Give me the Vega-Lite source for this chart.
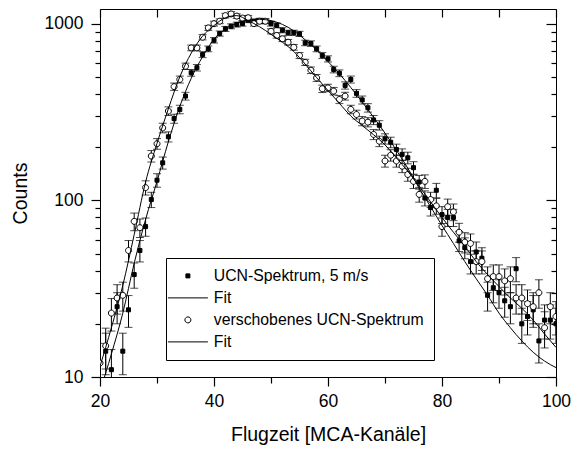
{
  "$schema": "https://vega.github.io/schema/vega-lite/v6.json",
  "width": 456,
  "height": 368,
  "autosize": "none",
  "padding": {"left": 100, "top": 9, "right": 18, "bottom": 72},
  "background": "white",
  "config": {
    "view": {"stroke": "black", "strokeWidth": 1},
    "font": "Liberation Sans",
    "axis": {"grid": false, "domain": false, "ticks": true, "tickColor": "black", "tickWidth": 1.2, "tickOpacity": 1, "labelColor": "black", "titleColor": "black", "titleFontWeight": "normal", "labelFontSize": 17.5, "titleFontSize": 19.5, "labelFlush": false, "labelOverlap": false},
    "legend": {"orient": "none", "legendX": 66, "legendY": 249, "strokeColor": "black", "fillColor": "white", "padding": 10, "symbolOffset": 4, "rowPadding": 5, "labelOffset": 18, "labelFont": "Liberation Sans", "labelFontSize": 15.8, "labelColor": "black", "labelLimit": 400, "symbolSize": 64, "symbolStrokeWidth": 1, "symbolOpacity": 1}
  },
  "datasets": {
    "pts": [
      {"x":21,"n":14,"err":3.7,"serie":"UCN-Spektrum, 5 m/s"},{"x":22,"n":11,"err":3.3,"serie":"UCN-Spektrum, 5 m/s"},{"x":23,"n":25,"err":5,"serie":"UCN-Spektrum, 5 m/s"},{"x":24,"n":14,"err":3.7,"serie":"UCN-Spektrum, 5 m/s"},{"x":25,"n":24,"err":4.9,"serie":"UCN-Spektrum, 5 m/s"},{"x":26,"n":38,"err":6.2,"serie":"UCN-Spektrum, 5 m/s"},{"x":27,"n":52,"err":7.2,"serie":"UCN-Spektrum, 5 m/s"},{"x":28,"n":71,"err":8.4,"serie":"UCN-Spektrum, 5 m/s"},{"x":29,"n":101,"err":10,"serie":"UCN-Spektrum, 5 m/s"},{"x":30,"n":130,"err":11.4,"serie":"UCN-Spektrum, 5 m/s"},
      {"x":31,"n":163,"err":12.8,"serie":"UCN-Spektrum, 5 m/s"},{"x":32,"n":229,"err":15.1,"serie":"UCN-Spektrum, 5 m/s"},{"x":33,"n":290,"err":17,"serie":"UCN-Spektrum, 5 m/s"},{"x":34,"n":327,"err":18.1,"serie":"UCN-Spektrum, 5 m/s"},{"x":35,"n":389,"err":19.7,"serie":"UCN-Spektrum, 5 m/s"},{"x":36,"n":527,"err":23,"serie":"UCN-Spektrum, 5 m/s"},{"x":37,"n":563,"err":23.7,"serie":"UCN-Spektrum, 5 m/s"},{"x":38,"n":668,"err":25.8,"serie":"UCN-Spektrum, 5 m/s"},{"x":39,"n":720,"err":26.8,"serie":"UCN-Spektrum, 5 m/s"},{"x":40,"n":805,"err":28.4,"serie":"UCN-Spektrum, 5 m/s"},
      {"x":41,"n":879,"err":29.6,"serie":"UCN-Spektrum, 5 m/s"},{"x":42,"n":934,"err":30.6,"serie":"UCN-Spektrum, 5 m/s"},{"x":43,"n":966,"err":31.1,"serie":"UCN-Spektrum, 5 m/s"},{"x":44,"n":988,"err":31.4,"serie":"UCN-Spektrum, 5 m/s"},{"x":45,"n":1000,"err":31.6,"serie":"UCN-Spektrum, 5 m/s"},{"x":46,"n":1045,"err":32.3,"serie":"UCN-Spektrum, 5 m/s"},{"x":47,"n":1030,"err":32.1,"serie":"UCN-Spektrum, 5 m/s"},{"x":48,"n":1040,"err":32.2,"serie":"UCN-Spektrum, 5 m/s"},{"x":49,"n":1032,"err":32.1,"serie":"UCN-Spektrum, 5 m/s"},{"x":50,"n":1000,"err":31.6,"serie":"UCN-Spektrum, 5 m/s"},
      {"x":51,"n":978,"err":31.3,"serie":"UCN-Spektrum, 5 m/s"},{"x":52,"n":918,"err":30.3,"serie":"UCN-Spektrum, 5 m/s"},{"x":53,"n":888,"err":29.8,"serie":"UCN-Spektrum, 5 m/s"},{"x":54,"n":888,"err":29.8,"serie":"UCN-Spektrum, 5 m/s"},{"x":55,"n":875,"err":29.6,"serie":"UCN-Spektrum, 5 m/s"},{"x":56,"n":778,"err":27.9,"serie":"UCN-Spektrum, 5 m/s"},{"x":57,"n":771,"err":27.8,"serie":"UCN-Spektrum, 5 m/s"},{"x":58,"n":720,"err":26.8,"serie":"UCN-Spektrum, 5 m/s"},{"x":59,"n":660,"err":25.7,"serie":"UCN-Spektrum, 5 m/s"},{"x":60,"n":632,"err":25.1,"serie":"UCN-Spektrum, 5 m/s"},
      {"x":61,"n":550,"err":23.5,"serie":"UCN-Spektrum, 5 m/s"},{"x":62,"n":524,"err":22.9,"serie":"UCN-Spektrum, 5 m/s"},{"x":63,"n":447,"err":21.1,"serie":"UCN-Spektrum, 5 m/s"},{"x":64,"n":483,"err":22,"serie":"UCN-Spektrum, 5 m/s"},{"x":65,"n":403,"err":20.1,"serie":"UCN-Spektrum, 5 m/s"},{"x":66,"n":370,"err":19.2,"serie":"UCN-Spektrum, 5 m/s"},{"x":67,"n":334,"err":18.3,"serie":"UCN-Spektrum, 5 m/s"},{"x":68,"n":285,"err":16.9,"serie":"UCN-Spektrum, 5 m/s"},{"x":69,"n":266,"err":16.3,"serie":"UCN-Spektrum, 5 m/s"},{"x":70,"n":223,"err":14.9,"serie":"UCN-Spektrum, 5 m/s"},
      {"x":71,"n":213,"err":14.6,"serie":"UCN-Spektrum, 5 m/s"},{"x":72,"n":194,"err":13.9,"serie":"UCN-Spektrum, 5 m/s"},{"x":73,"n":182,"err":13.5,"serie":"UCN-Spektrum, 5 m/s"},{"x":74,"n":174,"err":13.2,"serie":"UCN-Spektrum, 5 m/s"},{"x":75,"n":153,"err":12.4,"serie":"UCN-Spektrum, 5 m/s"},{"x":76,"n":127,"err":11.3,"serie":"UCN-Spektrum, 5 m/s"},{"x":77,"n":103,"err":10.1,"serie":"UCN-Spektrum, 5 m/s"},{"x":78,"n":91,"err":9.5,"serie":"UCN-Spektrum, 5 m/s"},{"x":79,"n":114,"err":10.7,"serie":"UCN-Spektrum, 5 m/s"},{"x":80,"n":83,"err":9.1,"serie":"UCN-Spektrum, 5 m/s"},
      {"x":81,"n":80,"err":8.9,"serie":"UCN-Spektrum, 5 m/s"},{"x":82,"n":80,"err":8.9,"serie":"UCN-Spektrum, 5 m/s"},{"x":83,"n":59,"err":7.7,"serie":"UCN-Spektrum, 5 m/s"},{"x":84,"n":54,"err":7.3,"serie":"UCN-Spektrum, 5 m/s"},{"x":85,"n":45,"err":6.7,"serie":"UCN-Spektrum, 5 m/s"},{"x":86,"n":51,"err":7.1,"serie":"UCN-Spektrum, 5 m/s"},{"x":87,"n":47,"err":6.9,"serie":"UCN-Spektrum, 5 m/s"},{"x":88,"n":29,"err":5.4,"serie":"UCN-Spektrum, 5 m/s"},{"x":89,"n":32,"err":5.7,"serie":"UCN-Spektrum, 5 m/s"},{"x":90,"n":30,"err":5.5,"serie":"UCN-Spektrum, 5 m/s"},
      {"x":91,"n":27,"err":5.2,"serie":"UCN-Spektrum, 5 m/s"},{"x":92,"n":25,"err":5,"serie":"UCN-Spektrum, 5 m/s"},{"x":93,"n":41,"err":6.4,"serie":"UCN-Spektrum, 5 m/s"},{"x":94,"n":20,"err":4.5,"serie":"UCN-Spektrum, 5 m/s"},{"x":95,"n":22,"err":4.7,"serie":"UCN-Spektrum, 5 m/s"},{"x":96,"n":24,"err":4.9,"serie":"UCN-Spektrum, 5 m/s"},{"x":97,"n":16,"err":4,"serie":"UCN-Spektrum, 5 m/s"},{"x":98,"n":21,"err":4.6,"serie":"UCN-Spektrum, 5 m/s"},{"x":99,"n":21,"err":4.6,"serie":"UCN-Spektrum, 5 m/s"},{"x":100,"n":20,"err":4.5,"serie":"UCN-Spektrum, 5 m/s"},
      {"x":20,"n":12,"err":3.5,"serie":"verschobenes UCN-Spektrum"},{"x":21,"n":15,"err":3.9,"serie":"verschobenes UCN-Spektrum"},{"x":22,"n":23,"err":4.8,"serie":"verschobenes UCN-Spektrum"},{"x":23,"n":28,"err":5.3,"serie":"verschobenes UCN-Spektrum"},{"x":24,"n":29,"err":5.4,"serie":"verschobenes UCN-Spektrum"},{"x":25,"n":52,"err":7.2,"serie":"verschobenes UCN-Spektrum"},{"x":26,"n":76,"err":8.7,"serie":"verschobenes UCN-Spektrum"},{"x":27,"n":70,"err":8.4,"serie":"verschobenes UCN-Spektrum"},{"x":28,"n":118,"err":10.9,"serie":"verschobenes UCN-Spektrum"},{"x":29,"n":178,"err":13.3,"serie":"verschobenes UCN-Spektrum"},
      {"x":30,"n":209,"err":14.5,"serie":"verschobenes UCN-Spektrum"},{"x":31,"n":257,"err":16,"serie":"verschobenes UCN-Spektrum"},{"x":32,"n":320,"err":17.9,"serie":"verschobenes UCN-Spektrum"},{"x":33,"n":440,"err":21,"serie":"verschobenes UCN-Spektrum"},{"x":34,"n":483,"err":22,"serie":"verschobenes UCN-Spektrum"},{"x":35,"n":574,"err":24,"serie":"verschobenes UCN-Spektrum"},{"x":36,"n":729,"err":27,"serie":"verschobenes UCN-Spektrum"},{"x":37,"n":729,"err":27,"serie":"verschobenes UCN-Spektrum"},{"x":38,"n":838,"err":28.9,"serie":"verschobenes UCN-Spektrum"},{"x":39,"n":946,"err":30.8,"serie":"verschobenes UCN-Spektrum"},
      {"x":40,"n":1000,"err":31.6,"serie":"verschobenes UCN-Spektrum"},{"x":41,"n":1032,"err":32.1,"serie":"verschobenes UCN-Spektrum"},{"x":42,"n":1110,"err":33.3,"serie":"verschobenes UCN-Spektrum"},{"x":43,"n":1135,"err":33.7,"serie":"verschobenes UCN-Spektrum"},{"x":44,"n":1103,"err":33.2,"serie":"verschobenes UCN-Spektrum"},{"x":45,"n":1075,"err":32.8,"serie":"verschobenes UCN-Spektrum"},{"x":46,"n":1080,"err":32.9,"serie":"verschobenes UCN-Spektrum"},{"x":47,"n":1000,"err":31.6,"serie":"verschobenes UCN-Spektrum"},{"x":48,"n":1032,"err":32.1,"serie":"verschobenes UCN-Spektrum"},{"x":49,"n":1032,"err":32.1,"serie":"verschobenes UCN-Spektrum"},
      {"x":50,"n":905,"err":30.1,"serie":"verschobenes UCN-Spektrum"},{"x":51,"n":857,"err":29.3,"serie":"verschobenes UCN-Spektrum"},{"x":52,"n":820,"err":28.6,"serie":"verschobenes UCN-Spektrum"},{"x":53,"n":785,"err":28,"serie":"verschobenes UCN-Spektrum"},{"x":54,"n":735,"err":27.1,"serie":"verschobenes UCN-Spektrum"},{"x":55,"n":660,"err":25.7,"serie":"verschobenes UCN-Spektrum"},{"x":56,"n":604,"err":24.6,"serie":"verschobenes UCN-Spektrum"},{"x":57,"n":545,"err":23.3,"serie":"verschobenes UCN-Spektrum"},{"x":58,"n":493,"err":22.2,"serie":"verschobenes UCN-Spektrum"},{"x":59,"n":428,"err":20.7,"serie":"verschobenes UCN-Spektrum"},
      {"x":60,"n":433,"err":20.8,"serie":"verschobenes UCN-Spektrum"},{"x":61,"n":415,"err":20.4,"serie":"verschobenes UCN-Spektrum"},{"x":62,"n":372,"err":19.3,"serie":"verschobenes UCN-Spektrum"},{"x":63,"n":389,"err":19.7,"serie":"verschobenes UCN-Spektrum"},{"x":64,"n":327,"err":18.1,"serie":"verschobenes UCN-Spektrum"},{"x":65,"n":306,"err":17.5,"serie":"verschobenes UCN-Spektrum"},{"x":66,"n":281,"err":16.8,"serie":"verschobenes UCN-Spektrum"},{"x":67,"n":277,"err":16.6,"serie":"verschobenes UCN-Spektrum"},{"x":68,"n":236,"err":15.4,"serie":"verschobenes UCN-Spektrum"},{"x":69,"n":216,"err":14.7,"serie":"verschobenes UCN-Spektrum"},
      {"x":70,"n":167,"err":12.9,"serie":"verschobenes UCN-Spektrum"},{"x":71,"n":180,"err":13.4,"serie":"verschobenes UCN-Spektrum"},{"x":72,"n":167,"err":12.9,"serie":"verschobenes UCN-Spektrum"},{"x":73,"n":156,"err":12.5,"serie":"verschobenes UCN-Spektrum"},{"x":74,"n":140,"err":11.8,"serie":"verschobenes UCN-Spektrum"},{"x":75,"n":128,"err":11.3,"serie":"verschobenes UCN-Spektrum"},{"x":76,"n":108,"err":10.4,"serie":"verschobenes UCN-Spektrum"},{"x":77,"n":128,"err":11.3,"serie":"verschobenes UCN-Spektrum"},{"x":78,"n":101,"err":10,"serie":"verschobenes UCN-Spektrum"},{"x":79,"n":93,"err":9.6,"serie":"verschobenes UCN-Spektrum"},
      {"x":80,"n":71,"err":8.4,"serie":"verschobenes UCN-Spektrum"},{"x":81,"n":92,"err":9.6,"serie":"verschobenes UCN-Spektrum"},{"x":82,"n":86,"err":9.3,"serie":"verschobenes UCN-Spektrum"},{"x":83,"n":66,"err":8.1,"serie":"verschobenes UCN-Spektrum"},{"x":84,"n":58,"err":7.6,"serie":"verschobenes UCN-Spektrum"},{"x":85,"n":57,"err":7.5,"serie":"verschobenes UCN-Spektrum"},{"x":86,"n":45,"err":6.7,"serie":"verschobenes UCN-Spektrum"},{"x":87,"n":45,"err":6.7,"serie":"verschobenes UCN-Spektrum"},{"x":88,"n":36,"err":6,"serie":"verschobenes UCN-Spektrum"},{"x":89,"n":37,"err":6.1,"serie":"verschobenes UCN-Spektrum"},
      {"x":90,"n":37,"err":6.1,"serie":"verschobenes UCN-Spektrum"},{"x":91,"n":35,"err":5.9,"serie":"verschobenes UCN-Spektrum"},{"x":92,"n":36,"err":6,"serie":"verschobenes UCN-Spektrum"},{"x":93,"n":28,"err":5.3,"serie":"verschobenes UCN-Spektrum"},{"x":94,"n":28,"err":5.3,"serie":"verschobenes UCN-Spektrum"},{"x":95,"n":26,"err":5.1,"serie":"verschobenes UCN-Spektrum"},{"x":96,"n":25,"err":5,"serie":"verschobenes UCN-Spektrum"},{"x":97,"n":30,"err":5.5,"serie":"verschobenes UCN-Spektrum"},{"x":98,"n":19,"err":4.4,"serie":"verschobenes UCN-Spektrum"},{"x":99,"n":25,"err":5,"serie":"verschobenes UCN-Spektrum"},{"x":100,"n":22,"err":4.7,"serie":"verschobenes UCN-Spektrum"}
    ],
    "fit": [
      {"x":20,"n":8.3,"kurve":"Fit"},{"x":22,"n":13.5,"kurve":"Fit"},{"x":24,"n":23,"kurve":"Fit"},{"x":26,"n":44,"kurve":"Fit"},{"x":28,"n":78,"kurve":"Fit"},{"x":30,"n":128,"kurve":"Fit"},{"x":32,"n":215,"kurve":"Fit"},{"x":34,"n":340,"kurve":"Fit"},{"x":36,"n":490,"kurve":"Fit"},{"x":38,"n":650,"kurve":"Fit"},{"x":40,"n":815,"kurve":"Fit"},{"x":42,"n":930,"kurve":"Fit"},{"x":44,"n":1005,"kurve":"Fit"},{"x":46,"n":1045,"kurve":"Fit"},{"x":48,"n":1058,"kurve":"Fit"},{"x":50,"n":1040,"kurve":"Fit"},{"x":52,"n":990,"kurve":"Fit"},{"x":54,"n":910,"kurve":"Fit"},{"x":56,"n":810,"kurve":"Fit"},{"x":58,"n":710,"kurve":"Fit"},{"x":60,"n":610,"kurve":"Fit"},{"x":62,"n":520,"kurve":"Fit"},{"x":64,"n":435,"kurve":"Fit"},{"x":66,"n":360,"kurve":"Fit"},{"x":68,"n":295,"kurve":"Fit"},{"x":70,"n":240,"kurve":"Fit"},{"x":72,"n":192,"kurve":"Fit"},{"x":74,"n":152,"kurve":"Fit"},{"x":76,"n":117,"kurve":"Fit"},{"x":78,"n":92,"kurve":"Fit"},{"x":80,"n":72,"kurve":"Fit"},{"x":82,"n":57,"kurve":"Fit"},{"x":84,"n":45,"kurve":"Fit"},{"x":86,"n":36,"kurve":"Fit"},{"x":88,"n":29,"kurve":"Fit"},{"x":90,"n":23,"kurve":"Fit"},{"x":92,"n":19,"kurve":"Fit"},{"x":94,"n":16,"kurve":"Fit"},{"x":96,"n":13.8,"kurve":"Fit"},{"x":98,"n":12.3,"kurve":"Fit"},{"x":100,"n":11.3,"kurve":"Fit"},
      {"x":20,"n":11.5,"kurve":"Fit (verschoben)"},{"x":22,"n":19,"kurve":"Fit (verschoben)"},{"x":24,"n":33,"kurve":"Fit (verschoben)"},{"x":26,"n":64,"kurve":"Fit (verschoben)"},{"x":28,"n":127,"kurve":"Fit (verschoben)"},{"x":30,"n":210,"kurve":"Fit (verschoben)"},{"x":32,"n":330,"kurve":"Fit (verschoben)"},{"x":34,"n":500,"kurve":"Fit (verschoben)"},{"x":36,"n":680,"kurve":"Fit (verschoben)"},{"x":38,"n":850,"kurve":"Fit (verschoben)"},{"x":40,"n":975,"kurve":"Fit (verschoben)"},{"x":42,"n":1080,"kurve":"Fit (verschoben)"},{"x":44,"n":1110,"kurve":"Fit (verschoben)"},{"x":46,"n":1040,"kurve":"Fit (verschoben)"},{"x":48,"n":960,"kurve":"Fit (verschoben)"},{"x":50,"n":870,"kurve":"Fit (verschoben)"},{"x":52,"n":785,"kurve":"Fit (verschoben)"},{"x":54,"n":695,"kurve":"Fit (verschoben)"},{"x":56,"n":590,"kurve":"Fit (verschoben)"},{"x":58,"n":495,"kurve":"Fit (verschoben)"},{"x":60,"n":418,"kurve":"Fit (verschoben)"},{"x":62,"n":354,"kurve":"Fit (verschoben)"},{"x":64,"n":300,"kurve":"Fit (verschoben)"},{"x":66,"n":265,"kurve":"Fit (verschoben)"},{"x":68,"n":235,"kurve":"Fit (verschoben)"},{"x":70,"n":206,"kurve":"Fit (verschoben)"},{"x":72,"n":174,"kurve":"Fit (verschoben)"},{"x":74,"n":146,"kurve":"Fit (verschoben)"},{"x":76,"n":120,"kurve":"Fit (verschoben)"},{"x":78,"n":98,"kurve":"Fit (verschoben)"},{"x":80,"n":80,"kurve":"Fit (verschoben)"},{"x":82,"n":66,"kurve":"Fit (verschoben)"},{"x":84,"n":55,"kurve":"Fit (verschoben)"},{"x":86,"n":45,"kurve":"Fit (verschoben)"},{"x":88,"n":38,"kurve":"Fit (verschoben)"},{"x":90,"n":32.5,"kurve":"Fit (verschoben)"},{"x":92,"n":28,"kurve":"Fit (verschoben)"},{"x":94,"n":24.5,"kurve":"Fit (verschoben)"},{"x":96,"n":21,"kurve":"Fit (verschoben)"},{"x":98,"n":17.5,"kurve":"Fit (verschoben)"},{"x":100,"n":14.7,"kurve":"Fit (verschoben)"}
    ]
  },
  "layer": [
    {
      "data": {"name": "pts"},
      "mark": {"type": "errorbar", "ticks": {"size": 8}, "color": "black", "thickness": 1, "clip": true},
      "encoding": {
        "x": {"field": "x", "type": "quantitative", "scale": {"domain": [20, 100], "nice": false, "zero": false},
          "axis": {"orient": "bottom", "values": [20, 40, 60, 80, 100], "ticks": false, "labelPadding": 15, "title": "Flugzeit [MCA-Kanäle]", "titlePadding": 16}},
        "y": {"field": "n", "type": "quantitative", "scale": {"type": "log", "domain": [10, 1210], "nice": false},
          "axis": {"orient": "left", "values": [10, 100, 1000], "format": "d", "ticks": false, "labelPadding": 17, "title": "Counts", "titlePadding": 14}},
        "yError": {"field": "err"}
      }
    },
    {
      "data": {"name": "pts"},
      "transform": [{"filter": "datum.serie == 'UCN-Spektrum, 5 m/s'"}],
      "mark": {"type": "point", "filled": true, "strokeWidth": 1, "size": 64, "opacity": 1, "clip": true},
      "encoding": {
        "x": {"field": "x", "type": "quantitative",
          "axis": {"orient": "top", "offset": -377, "values": [20, 40, 60, 80, 100], "tickSize": 9, "labels": false, "title": null}},
        "y": {"field": "n", "type": "quantitative",
          "axis": {"orient": "right", "offset": -465, "values": [10, 100, 1000], "tickSize": 9, "labels": false, "title": null}},
        "shape": {"field": "serie", "type": "nominal",
          "scale": {"domain": ["UCN-Spektrum, 5 m/s", "Fit", "verschobenes UCN-Spektrum", "Fit (verschoben)"], "range": ["M-0.5,-0.5H0.5V0.5H-0.5Z", "M-5,0H5", "M0.75,0A0.75,0.75,0,1,1,-0.75,0A0.75,0.75,0,1,1,0.75,0Z", "M-5,0H5"]},
          "legend": {"title": null, "labelExpr": "datum.label == 'Fit (verschoben)' ? 'Fit' : datum.label"}},
        "fill": {"field": "serie", "type": "nominal",
          "scale": {"domain": ["UCN-Spektrum, 5 m/s", "Fit", "verschobenes UCN-Spektrum", "Fit (verschoben)"], "range": ["black", "white", "white", "white"]},
          "legend": {"title": null, "labelExpr": "datum.label == 'Fit (verschoben)' ? 'Fit' : datum.label"}},
        "stroke": {"field": "serie", "type": "nominal",
          "scale": {"domain": ["UCN-Spektrum, 5 m/s", "Fit", "verschobenes UCN-Spektrum", "Fit (verschoben)"], "range": ["black", "black", "black", "black"]},
          "legend": {"title": null, "labelExpr": "datum.label == 'Fit (verschoben)' ? 'Fit' : datum.label"}}
      }
    },
    {
      "data": {"name": "pts"},
      "transform": [{"filter": "datum.serie == 'verschobenes UCN-Spektrum'"}],
      "mark": {"type": "point", "filled": true, "strokeWidth": 1, "size": 64, "opacity": 1, "clip": true},
      "encoding": {
        "x": {"field": "x", "type": "quantitative",
          "axis": {"orient": "top", "offset": -374, "values": [30, 50, 70, 90], "tickSize": 6, "labels": false, "title": null}},
        "y": {"field": "n", "type": "quantitative",
          "axis": {"orient": "right", "offset": -461, "values": [20, 30, 40, 50, 60, 70, 80, 90, 200, 300, 400, 500, 600, 700, 800, 900], "tickSize": 5, "labels": false, "title": null}},
        "shape": {"field": "serie", "type": "nominal"},
        "fill": {"field": "serie", "type": "nominal"},
        "stroke": {"field": "serie", "type": "nominal"}
      }
    },
    {
      "data": {"name": "fit"},
      "transform": [{"filter": "datum.kurve == 'Fit'"}],
      "mark": {"type": "line", "color": "black", "strokeWidth": 1, "interpolate": "monotone", "clip": true},
      "encoding": {
        "x": {"field": "x", "type": "quantitative",
          "axis": {"orient": "bottom", "offset": -368, "values": [20, 30, 40, 50, 60, 70, 80, 90, 100], "tickSize": 8, "labels": false, "title": null}},
        "y": {"field": "n", "type": "quantitative",
          "axis": {"orient": "left", "offset": -456, "values": [10, 100, 1000], "tickSize": 10, "labels": false, "title": null}}
      }
    },
    {
      "data": {"name": "fit"},
      "transform": [{"filter": "datum.kurve == 'Fit (verschoben)'"}],
      "mark": {"type": "line", "color": "black", "strokeWidth": 1, "interpolate": "monotone", "clip": true},
      "encoding": {
        "x": {"field": "x", "type": "quantitative", "axis": null},
        "y": {"field": "n", "type": "quantitative",
          "axis": {"orient": "left", "offset": -456, "values": [20, 30, 40, 50, 60, 70, 80, 90, 200, 300, 400, 500, 600, 700, 800, 900], "tickSize": 5, "labels": false, "title": null}}
      }
    }
  ],
  "resolve": {"axis": {"x": "independent", "y": "independent"}}
}
